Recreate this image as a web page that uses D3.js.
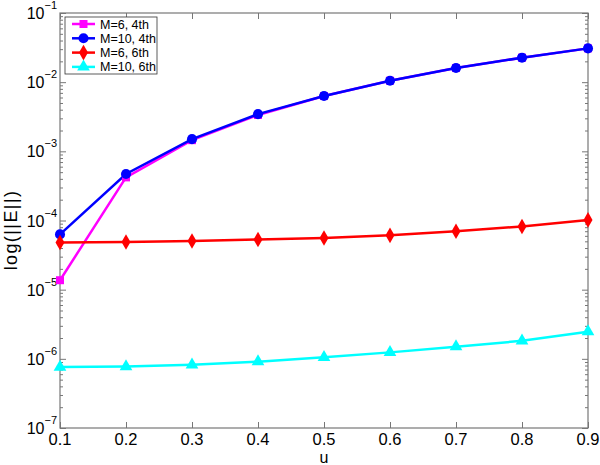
<!DOCTYPE html>
<html><head><meta charset="utf-8">
<script src="https://cdn.jsdelivr.net/npm/d3@7"></script>
<style>body{margin:0;background:#fff}svg{display:block}text{font-family:"Liberation Sans",Arial,Helvetica,sans-serif}</style>
</head><body>
<script>
const uValues = [0.1,0.2,0.3,0.4,0.5,0.6,0.7,0.8,0.9];
const m6_4th  = [1.37e-5,4.2e-4,1.45e-3,3.35e-3,6.3e-3,1.05e-2,1.6e-2,2.26e-2,3.08e-2];
const m10_4th = [6.3e-5,4.7e-4,1.5e-3,3.45e-3,6.3e-3,1.05e-2,1.6e-2,2.26e-2,3.08e-2];
const m6_6th  = [4.8e-5,4.9e-5,5.05e-5,5.3e-5,5.6e-5,6.1e-5,7.0e-5,8.2e-5,1.02e-4];
const m10_6th = [7.6e-7,7.75e-7,8.2e-7,9.1e-7,1.05e-6,1.24e-6,1.5e-6,1.82e-6,2.47e-6];
const seriesNames = ["M=6, 4th","M=10, 4th","M=6, 6th","M=10, 6th"];
const xTicks = [0.1,0.2,0.3,0.4,0.5,0.6,0.7,0.8,0.9];
const yExponents = [-1,-2,-3,-4,-5,-6,-7];

const series = [
  {name:seriesNames[0], values:m6_4th, color:"#ff00ff", sym:d3.symbolSquare, size:64},
  {name:seriesNames[1], values:m10_4th, color:"#0000ff", sym:d3.symbolCircle, size:80},
  {name:seriesNames[2], values:m6_6th, color:"#ff0000", sym:d3.symbolDiamond, size:70},
  {name:seriesNames[3], values:m10_6th, color:"#00ffff", sym:d3.symbolTriangle, size:70}
];

const W=600,H=465, L=60,R=588,T=13,B=428;
const svg=d3.select("body").append("svg").attr("width",W).attr("height",H);
const x=d3.scaleLinear().domain([0.1,0.9]).range([L,R]);
const y=d3.scaleLog().domain([1e-7,1e-1]).range([B,T]);
const axisColor="#777";

const minor=[];
for(let e=-7;e<-1;e++) for(let k=2;k<=9;k++) minor.push(k*Math.pow(10,e));
const g=svg.append("g");
function drawY(side){
  const ax = side==="left"? d3.axisLeft(y) : d3.axisRight(y);
  const gg=g.append("g").attr("transform",`translate(${side==="left"?L:R},0)`)
    .call(ax.tickValues(yExponents.map(e=>Math.pow(10,e))).tickSize(-6).tickFormat(""));
  gg.append("g").call((side==="left"?d3.axisLeft(y):d3.axisRight(y)).tickValues(minor).tickSize(-3).tickFormat(""));
  gg.selectAll("path,line").attr("stroke",axisColor);
  gg.selectAll(".domain").remove();
}
drawY("left");drawY("right");
function drawX(side){
  const ax = side==="bottom"? d3.axisBottom(x) : d3.axisTop(x);
  const gg=g.append("g").attr("transform",`translate(0,${side==="bottom"?B:T})`)
    .call(ax.tickValues(xTicks).tickSize(-6).tickFormat(""));
  gg.selectAll("line").attr("stroke",axisColor);
  gg.selectAll(".domain").remove();
}
drawX("bottom");drawX("top");
svg.append("rect").attr("x",L).attr("y",T).attr("width",R-L).attr("height",B-T)
  .attr("fill","none").attr("stroke",axisColor).attr("stroke-width",1.2);

svg.append("g").selectAll("text").data(xTicks).join("text")
  .attr("x",d=>x(d)).attr("y",B+17).attr("text-anchor","middle")
  .attr("font-size",16.5).attr("fill","#000").text(d=>d.toFixed(1));
const yl=svg.append("g").selectAll("text").data(yExponents).join("text")
  .attr("x",L-3).attr("y",d=>y(Math.pow(10,d))+6).attr("text-anchor","end").attr("fill","#000");
yl.append("tspan").attr("font-size",16).text("10");
yl.append("tspan").attr("font-size",11).attr("dy",-10).text(d=>"\u2212"+(-d));

svg.append("text").attr("x",x(0.5)).attr("y",463).attr("text-anchor","middle").attr("font-size",16).text("u");
svg.append("text").attr("transform",`translate(17,230) rotate(-90)`).attr("text-anchor","middle")
  .attr("font-size",18).attr("letter-spacing",1.4).text("log(||E||)");

const line=d3.line().x((d,i)=>x(uValues[i])).y(d=>y(d));
const plot=svg.append("g");
series.forEach(s=>{
  plot.append("path").datum(s.values).attr("d",line).attr("fill","none").attr("stroke",s.color).attr("stroke-width",2.5);
});
series.forEach(s=>{
  plot.append("g").selectAll("path").data(s.values).join("path")
    .attr("transform",(d,i)=>`translate(${x(uValues[i])},${y(d)})`)
    .attr("d",d3.symbol().type(s.sym).size(s.size)).attr("fill",s.color);
});

const lg=svg.append("g");
lg.append("rect").attr("x",65).attr("y",17).attr("width",92).attr("height",57).attr("fill","#fff").attr("stroke","#333").attr("stroke-width",0.8);
series.forEach((s,i)=>{
  const yy=24+i*14.3;
  lg.append("line").attr("x1",72).attr("x2",95).attr("y1",yy).attr("y2",yy).attr("stroke",s.color).attr("stroke-width",2.5);
  lg.append("path").attr("transform",`translate(83.5,${yy})`).attr("d",d3.symbol().type(s.sym).size(s.size)).attr("fill",s.color);
  lg.append("text").attr("x",100).attr("y",yy+4.5).attr("font-size",12.5).text(s.name);
});
</script>
</body></html>
